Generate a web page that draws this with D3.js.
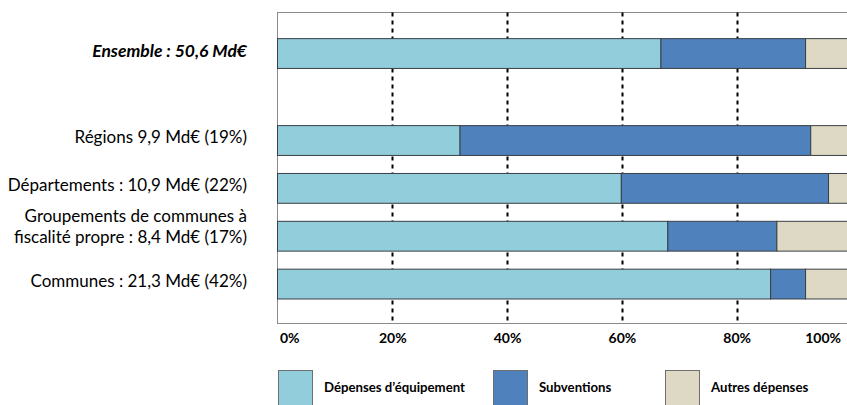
<!DOCTYPE html>
<html>
<head>
<meta charset="utf-8">
<script src="https://cdn.jsdelivr.net/npm/d3@7"></script>
<style>
  body { margin: 0; background: #fff; }
  svg { display: block; font-family: Lato, "Open Sans", sans-serif; }
</style>
</head>
<body>
<div id="chart"></div>
<script>
// rows : first one is the total, then the four kinds of collectivities
var rows = ["Ensemble", "Régions", "Départements", "Groupements", "Communes"];
var rowLabels = [
  ["Ensemble : 50,6 Md€"],
  ["Régions 9,9 Md€ (19%)"],
  ["Départements : 10,9 Md€ (22%)"],
  ["Groupements de communes à", "fiscalité propre : 8,4 Md€ (17%)"],
  ["Communes : 21,3 Md€ (42%)"]
];
// shares of spending, in %
var seriesNames = ["Dépenses d’équipement", "Subventions", "Autres dépenses"];
var equipement  = [66.8, 31.8, 59.9, 68.0, 85.9];
var subventions = [25.2, 61.1, 36.1, 19.0, 6.1];
var autres      = [8.0, 7.1, 4.0, 13.0, 8.0];
var xTicks = [0, 20, 40, 60, 80, 100];
var colors = ["#92cddc", "#4f81bd", "#ddd9c4"];

var width = 847, height = 405;
var plot = {left: 277.5, top: 12.5, right: 851.5, bottom: 323.5};

var svg = d3.select("#chart").append("svg")
  .attr("width", width)
  .attr("height", height);

var x = d3.scaleLinear().domain([0, 100]).range([plot.left, plot.right]);

// the total row sits on its own, the detail rows share one band scale
var yTotal = d3.scaleBand().domain(rows.slice(0, 1))
  .range([29.6, 77.5]).paddingInner(0.377).paddingOuter(0.1885);
var yDetail = d3.scaleBand().domain(rows.slice(1))
  .range([116.6, 308]).paddingInner(0.377).paddingOuter(0.1885);
function y(name) { return name === rows[0] ? yTotal(name) : yDetail(name); }
var bandH = yDetail.bandwidth();

var table = rows.map(function(r, i) {
  var o = {row: r};
  o[seriesNames[0]] = equipement[i];
  o[seriesNames[1]] = subventions[i];
  o[seriesNames[2]] = autres[i];
  return o;
});
var stacked = d3.stack().keys(seriesNames)(table);

// plot frame
svg.append("rect")
  .attr("x", plot.left).attr("y", plot.top)
  .attr("width", plot.right - plot.left).attr("height", plot.bottom - plot.top)
  .attr("fill", "none").attr("stroke", "#8a8a8a").attr("stroke-width", 1);

// dotted gridlines
svg.selectAll(".grid")
  .data(xTicks.filter(function(t) { return t > 0 && t < 100; }))
  .enter().append("line")
  .attr("x1", function(d) { return Math.round(x(d)) + 0.5; })
  .attr("x2", function(d) { return Math.round(x(d)) + 0.5; })
  .attr("y1", plot.top).attr("y2", plot.bottom)
  .attr("stroke", "#000").attr("stroke-width", 2)
  .attr("stroke-dasharray", "4,4");

// bars
svg.selectAll(".serie")
  .data(stacked)
  .enter().append("g")
  .attr("fill", function(d, i) { return colors[i]; })
  .selectAll("rect")
  .data(function(d) { return d; })
  .enter().append("rect")
  .attr("x", function(d) { return x(d[0]); })
  .attr("width", function(d) { return x(d[1]) - x(d[0]); })
  .attr("y", function(d) { return y(d.data.row); })
  .attr("height", bandH)
  .attr("stroke", "#3a3f44").attr("stroke-width", 1);

// x axis labels
var xAxis = d3.axisBottom(x).tickValues(xTicks)
  .tickSize(0).tickPadding(10)
  .tickFormat(function(d) { return d + "%"; });
var gx = svg.append("g")
  .attr("transform", "translate(0," + plot.bottom + ")")
  .call(xAxis);
gx.select(".domain").remove();
gx.selectAll("text")
  .attr("fill", "#000")
  .style("font-size", "14px")
  .style("font-weight", "bold")
  .style("font-family", "Lato, sans-serif");
gx.selectAll(".tick").filter(function(d) { return d === 0; }).select("text")
  .attr("text-anchor", "start").attr("x", 2);
gx.selectAll(".tick").filter(function(d) { return d === 100; }).select("text")
  .attr("text-anchor", "end").attr("x", -11);

// category labels
var labels = svg.selectAll(".lbl")
  .data(rows)
  .enter().append("text")
  .attr("text-anchor", "end")
  .attr("x", 247)
  .attr("y", function(d, i) {
    var n = rowLabels[i].length;
    return y(d) + bandH / 2 - (n - 1) * 17 - 3;
  })
  .style("font-size", function(d, i) { return i === 0 ? "17.5px" : "17px"; })
  .style("font-weight", function(d, i) { return i === 0 ? "bold" : "normal"; })
  .style("font-style", function(d, i) { return i === 0 ? "italic" : "normal"; })
  .attr("fill", "#000");
labels.each(function(d, i) {
  var t = d3.select(this);
  rowLabels[i].forEach(function(line, k) {
    t.append("tspan")
      .attr("x", 247)
      .attr("dy", k === 0 ? "0.35em" : "21px")
      .text(line);
  });
});

// legend
var legX = [278, 493, 665];
var leg = svg.selectAll(".leg")
  .data(seriesNames)
  .enter().append("g")
  .attr("transform", function(d, i) { return "translate(" + legX[i] + ",370)"; });
leg.append("rect")
  .attr("x", 0.5).attr("y", 0.5)
  .attr("width", 34).attr("height", 40)
  .attr("fill", function(d, i) { return colors[i]; })
  .attr("stroke", "#6e6e6e").attr("stroke-width", 1);
leg.append("text")
  .attr("x", 46).attr("y", 17)
  .attr("dy", "0.35em")
  .style("font-size", "13.2px")
  .style("font-weight", "bold")
  .attr("fill", "#000")
  .text(function(d) { return d; });
</script>
</body>
</html>
